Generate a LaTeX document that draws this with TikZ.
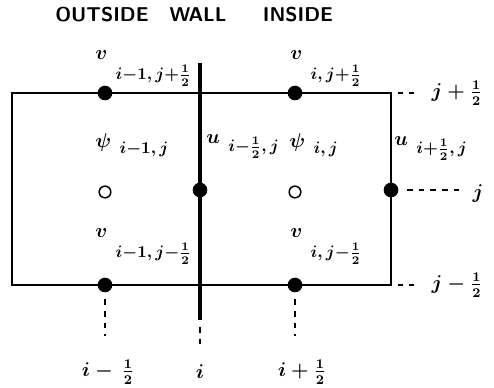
\documentclass[tikz,border=0pt]{standalone}
\usepackage{amsmath,amssymb}
\usepackage{tikz}
\usetikzlibrary{positioning}
% grid label: raised letter followed by its index
\newcommand{\gridlbl}[3][12pt]{\raisebox{#1}{\large$#2$}\hspace{5pt}$#3$}
\newcommand{\gmin}{\mathord{-}}
\newcommand{\gplus}{\mathord{+}}

\begin{document}
\begin{tikzpicture}[x=0.6pt,y=-0.6pt,
                    every node/.style={font=\normalsize},
                    fdot/.style={circle,fill=black,inner sep=0pt,minimum size=8.8pt},
                    odot/.style={circle,draw=black,line width=0.9pt,inner sep=0pt,minimum size=7pt},
                    cell/.style={line width=1.1pt},
                    wallln/.style={line width=2.4pt},
                    guide/.style={line width=0.9pt,dash pattern=on 3.5pt off 3.5pt},
                    hdr/.style={font=\sffamily\bfseries\large},
                    idx/.style={font=\large\boldmath},
                    lbl/.style={anchor=base west,inner sep=0pt,font=\normalsize\boldmath}]
  \useasboundingbox (0,0) rectangle (494,388);
  % headings
  \node[hdr] (hout) at (102,15) {OUTSIDE};
  \node[hdr] (hwall) at (198,15) {WALL};
  \node[hdr] (hin) at (298,15) {INSIDE};
  % cell and wall
  \coordinate (tl) at (12,93);  \coordinate (br) at (391,285);
  \coordinate (tr) at (391,93); \coordinate (bl) at (12,285);
  \draw[cell] (tl) rectangle (br);
  \coordinate (wtop) at (200,63); \coordinate (wbot) at (200,320);
  \draw[wallln] (wtop) -- (wbot);
  % points
  \node[fdot] (vtl) at (105,93) {};
  \node[fdot] (vtr) at (295,93) {};
  \node[fdot] (uw)  at (200,190) {};
  \node[fdot] (ue)  at (391,190) {};
  \node[fdot] (vbl) at (105,285) {};
  \node[fdot] (vbr) at (295,285) {};
  \node[odot] (pw)  at (105,192) {};
  \node[odot] (pc)  at (295,192) {};
  % point labels
  \node[lbl] (lvtl) at (95,80)  {\gridlbl{v}{i\gmin1,j\gplus\frac{1}{2}}};
  \node[lbl] (lvtr) at (290,80) {\gridlbl{v}{i,j\gplus\frac{1}{2}}};
  \node[lbl] (lpw)  at (95,154) {\gridlbl[4pt]{\psi}{i\gmin1,j}};
  \node[lbl] (luw)  at (206,152) {\gridlbl[5pt]{u}{i\gmin\frac{1}{2},j}};
  \node[lbl] (lpc)  at (289,154) {\gridlbl[4pt]{\psi}{i,j}};
  \node[lbl] (lue)  at (394,154) {\gridlbl[5pt]{u}{i\gplus\frac{1}{2},j}};
  \node[lbl] (lvbl) at (95,258) {\gridlbl{v}{i\gmin1,j\gmin\frac{1}{2}}};
  \node[lbl] (lvbr) at (290,258) {\gridlbl{v}{i,j\gmin\frac{1}{2}}};
  % index labels
  \node[idx] (jtop) at (457,93)  {$j+\frac{1}{2}$};
  \node[idx] (jmid) at (478,194) {$j$};
  \node[idx] (jbot) at (457,285) {$j-\frac{1}{2}$};
  \node[idx] (ilo)  at (108,372) {$i-\,\frac{1}{2}$};
  \node[idx] (imid) at (200,372) {$i$};
  \node[idx] (ihi)  at (302,372) {$i+\frac{1}{2}$};
  % guide lines
  \coordinate (gtop) at (414,93);
  \coordinate (gmid) at (462,190);
  \coordinate (gbot) at (414,285);
  \coordinate (glo) at (105,336);
  \coordinate (ghi) at (295,336);
  \coordinate (gw1) at (200,327); \coordinate (gw2) at (200,350);
  \draw[guide,shorten <=4pt] (tr) -- (gtop);
  \draw[guide,shorten <=5pt] (ue) -- (gmid);
  \draw[guide,shorten <=4pt] (br) -- (gbot);
  \draw[guide,shorten <=4pt] (vbl) -- (glo);
  \draw[guide,shorten <=4pt] (vbr) -- (ghi);
  \draw[guide] (gw1) -- (gw2);
\end{tikzpicture}
\end{document}
